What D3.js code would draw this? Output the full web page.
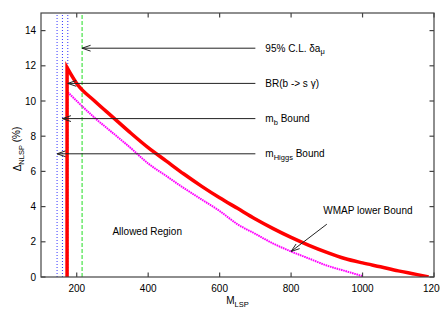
<!DOCTYPE html>
<html>
<head>
<meta charset="utf-8">
<script src="https://cdn.jsdelivr.net/npm/d3@7"></script>
<style>
  body { margin: 0; background: #fff; }
  svg { display: block; font-family: "Liberation Sans", Arial, sans-serif; }
</style>
</head>
<body>
<div id="chart"></div>
<script>
  var
    width = 440,
    height = 309,
    margin = {top: 13, right: 6, bottom: 32, left: 41};

  // relic density upper line (red) and WMAP lower bound (magenta)
  var redMass  = [173, 173, 200, 250, 300, 350, 400, 450, 500, 550, 600, 650, 700, 750, 800, 850, 900, 950, 1000, 1050, 1100, 1150, 1185];
  var redDelta = [0, 11.9, 11.0, 10.0, 9.1, 8.2, 7.35, 6.6, 5.85, 5.15, 4.5, 3.9, 3.3, 2.75, 2.25, 1.8, 1.4, 1.05, 0.8, 0.58, 0.35, 0.15, 0];

  var wmapMass  = [175, 200, 250, 300, 350, 400, 450, 500, 550, 600, 650, 700, 750, 800, 850, 900, 950, 1000];
  var wmapDelta = [10.5, 10.0, 9.05, 8.2, 7.35, 6.45, 5.75, 5.05, 4.4, 3.75, 3.0, 2.45, 1.9, 1.45, 1.05, 0.65, 0.35, 0.05];

  // vertical bounds
  var blueBounds = [145, 160, 175];
  var greenBound = 215;

  // labelled arrows
  var arrowLabels = ['95% C.L. δa_μ', 'BR(b -> s γ)', 'm_b Bound', 'm_Higgs Bound'];
  var arrowDelta  = [13, 11, 9, 7];
  var arrowTip    = [215, 175, 160, 145];
  var arrowTail   = 700;

  var xTicks = [200, 400, 600, 800, 1000, 1200];
  var yTicks = [0, 2, 4, 6, 8, 10, 12, 14];

  var svg = d3.select('#chart').append('svg')
    .attr('width', width)
    .attr('height', height);

  var x = d3.scaleLinear().domain([100, 1200]).range([margin.left, width - margin.right]);
  var y = d3.scaleLinear().domain([0, 15]).range([height - margin.bottom, margin.top]);

  // clip for plot area
  svg.append('clipPath').attr('id', 'plotclip')
    .append('rect')
    .attr('x', x(100)).attr('y', y(15))
    .attr('width', x(1200) - x(100)).attr('height', y(0) - y(15));

  var plot = svg.append('g').attr('clip-path', 'url(#plotclip)');

  // vertical bound lines
  plot.selectAll('line.blue')
    .data(blueBounds)
    .enter().append('line')
    .attr('class', 'blue')
    .attr('x1', function(d) { return x(d); })
    .attr('x2', function(d) { return x(d); })
    .attr('y1', y(0)).attr('y2', y(15))
    .attr('stroke', '#3333ff')
    .attr('stroke-width', 1)
    .attr('stroke-dasharray', '1,2');

  plot.append('line')
    .attr('x1', x(greenBound)).attr('x2', x(greenBound))
    .attr('y1', y(0)).attr('y2', y(15))
    .attr('stroke', '#22dd22')
    .attr('stroke-width', 1)
    .attr('stroke-dasharray', '4,2');

  var line = d3.line()
    .x(function(d) { return x(d[0]); })
    .y(function(d) { return y(d[1]); })
    .curve(d3.curveMonotoneX);

  plot.append('path')
    .datum(d3.zip(wmapMass, wmapDelta))
    .attr('d', line)
    .attr('fill', 'none')
    .attr('stroke', '#ff00ff')
    .attr('stroke-width', 2)
    .attr('stroke-dasharray', '1.6,0.7');

  // red: vertical rise then smooth fall
  var redPts = d3.zip(redMass, redDelta);
  var redPath = 'M' + x(redPts[0][0]) + ',' + y(redPts[0][1]) + line(redPts.slice(1)).replace(/^M/, 'L');
  plot.append('path')
    .attr('d', redPath)
    .attr('fill', 'none')
    .attr('stroke', '#ff0000')
    .attr('stroke-width', 3.5)
    .attr('stroke-linejoin', 'miter');

  // arrows
  function arrow(x1, y1, x2, y2) {
    var g = svg.append('g').attr('stroke', '#222').attr('stroke-width', 1).attr('fill', 'none');
    g.append('line').attr('x1', x1).attr('y1', y1).attr('x2', x2).attr('y2', y2);
    var a = Math.atan2(y1 - y2, x1 - x2),
      len = 9, spread = 0.33;
    g.append('path')
      .attr('d', 'M' + (x2 + len * Math.cos(a + spread)) + ',' + (y2 + len * Math.sin(a + spread)) +
        'L' + x2 + ',' + y2 +
        'L' + (x2 + len * Math.cos(a - spread)) + ',' + (y2 + len * Math.sin(a - spread)));
  }

  arrowLabels.forEach(function(lbl, i) {
    arrow(x(arrowTail), y(arrowDelta[i]), x(arrowTip[i]), y(arrowDelta[i]));
    var parts = lbl.split('_');
    var t = svg.append('text')
      .attr('x', x(arrowTail) + 10)
      .attr('y', y(arrowDelta[i]) + 3.5)
      .attr('font-size', 10)
      .attr('fill', '#000')
      .text(parts[0]);
    if (parts.length > 1) {
      var sub = parts[1].split(' ');
      t.append('tspan').attr('font-size', 7.5).attr('dy', 2.5).text(sub[0]);
      if (sub.length > 1) t.append('tspan').attr('dy', -2.5).text(' ' + sub.slice(1).join(' '));
    }
  });

  // WMAP arrow + label
  arrow(x(900), y(3.0), x(800), y(1.45));
  svg.append('text')
    .attr('x', x(890)).attr('y', y(3.8) + 3.5)
    .attr('font-size', 10)
    .text('WMAP lower Bound');

  svg.append('text')
    .attr('x', x(300)).attr('y', y(2.6) + 3.5)
    .attr('font-size', 10)
    .text('Allowed Region');

  // frame
  var frame = svg.append('g').attr('stroke', '#444').attr('stroke-width', 1.2);
  frame.append('rect')
    .attr('x', x(100)).attr('y', y(15))
    .attr('width', x(1200) - x(100)).attr('height', y(0) - y(15))
    .attr('fill', 'none');

  // ticks, inside, mirrored
  var tl = 4.5;
  xTicks.forEach(function(d) {
    frame.append('line').attr('x1', x(d)).attr('x2', x(d)).attr('y1', y(0)).attr('y2', y(0) - tl);
    frame.append('line').attr('x1', x(d)).attr('x2', x(d)).attr('y1', y(15)).attr('y2', y(15) + tl);
  });
  yTicks.forEach(function(d) {
    frame.append('line').attr('x1', x(100)).attr('x2', x(100) + tl).attr('y1', y(d)).attr('y2', y(d));
    frame.append('line').attr('x1', x(1200)).attr('x2', x(1200) - tl).attr('y1', y(d)).attr('y2', y(d));
  });

  svg.selectAll('text.xt')
    .data(xTicks)
    .enter().append('text')
    .attr('class', 'xt')
    .attr('x', function(d) { return x(d); })
    .attr('y', y(0) + 15)
    .attr('text-anchor', 'middle')
    .attr('font-size', 10)
    .text(function(d) { return d; });

  svg.selectAll('text.yt')
    .data(yTicks)
    .enter().append('text')
    .attr('class', 'yt')
    .attr('x', x(100) - 5)
    .attr('y', function(d) { return y(d) + 3.6; })
    .attr('text-anchor', 'end')
    .attr('font-size', 10)
    .text(function(d) { return d; });

  // axis titles
  var xl = svg.append('text')
    .attr('x', (x(100) + x(1200)) / 2)
    .attr('y', 304)
    .attr('text-anchor', 'middle')
    .attr('font-size', 10)
    .text('M');
  xl.append('tspan').attr('font-size', 7.5).attr('dy', 2.5).text('LSP');

  var yl = svg.append('text')
    .attr('transform', 'translate(21,' + ((y(0) + y(15)) / 2 + 4) + ') rotate(-90)')
    .attr('text-anchor', 'middle')
    .attr('font-size', 10)
    .text('Δ');
  yl.append('tspan').attr('font-size', 7.5).attr('dy', 2.5).text('NLSP');
  yl.append('tspan').attr('dy', -4).text(' (%)');
</script>
</body>
</html>
